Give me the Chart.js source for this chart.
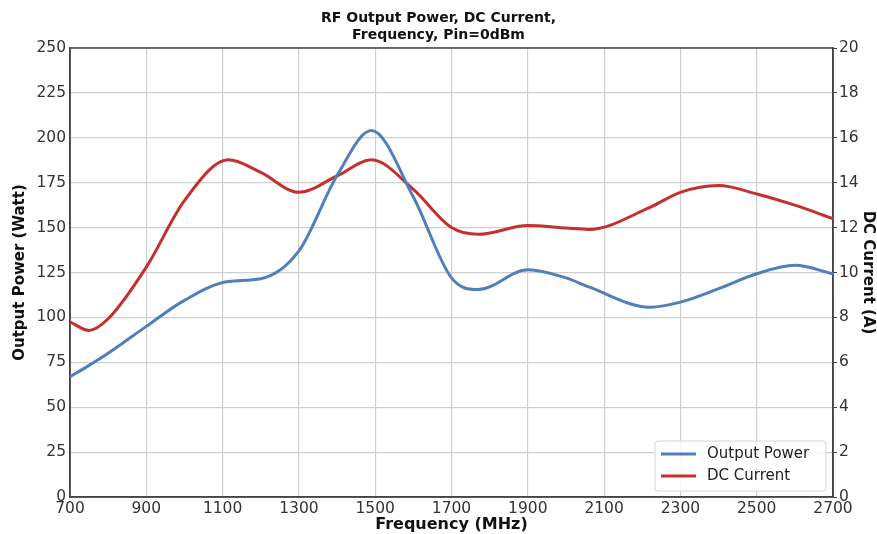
<!DOCTYPE html>
<html>
<head>
<meta charset="utf-8">
<script src="https://cdn.jsdelivr.net/npm/chart.js@4.4.1/dist/chart.umd.min.js"></script>
<style>
  html, body { margin: 0; padding: 0; background: #fff; }
  #wrap { width: 877px; height: 534px; }
</style>
</head>
<body>
<div id="wrap"><canvas id="c" width="877" height="534"></canvas></div>
<script>
// ---- Data ----
const frequencies = [700, 750, 800, 900, 1000, 1115, 1200, 1300, 1400, 1490, 1600, 1700, 1770, 1900, 2000, 2060, 2220, 2300, 2400, 2500, 2600, 2700];
const outputPower = [67, 73.3, 80, 95, 109.5, 120, 121.5, 137, 179, 204, 167, 122, 115.5, 126.5, 122, 117, 105.7, 108.5, 116, 124.3, 129, 124.3];
const dcCurrent   = [7.8, 7.42, 7.94, 10.24, 13.2, 15.02, 14.46, 13.57, 14.3, 15.02, 13.7, 12.0, 11.7, 12.09, 11.98, 11.92, 12.9, 13.57, 13.87, 13.5, 13.0, 12.4];
const seriesNames = ['Output Power', 'DC Current'];
const titleLines = ['RF Output Power, DC Current,', 'Frequency, Pin=0dBm'];
const xTitle = 'Frequency (MHz)';
const yLeftTitle = 'Output Power (Watt)';
const yRightTitle = 'DC Current (A)';

const BLUE = '#4f80bd';
const RED = '#c3302e';
const FONT = "'DejaVu Sans', sans-serif";

const toPts = (ys) => frequencies.map((x, i) => ({x, y: ys[i]}));

const frameAndLegend = {
  id: 'frameAndLegend',
  beforeDatasetsDraw(chart) {
    const {ctx, chartArea: a} = chart;
    ctx.save();
    ctx.strokeStyle = '#444';
    ctx.lineWidth = 1.5;
    ctx.strokeRect(a.left, a.top, a.right - a.left, a.bottom - a.top);
    ctx.restore();
  },
  afterDatasetsDraw(chart) {
    const {ctx, chartArea: a} = chart;
    const w = 171, h = 50;
    const x0 = a.right - 7 - w, y0 = a.bottom - 6 - h;
    ctx.save();
    ctx.fillStyle = 'rgba(255,255,255,0.85)';
    ctx.strokeStyle = '#d6d6d6';
    ctx.lineWidth = 1;
    ctx.beginPath();
    ctx.roundRect(x0, y0, w, h, 3);
    ctx.fill();
    ctx.stroke();
    ctx.font = '15px ' + FONT;
    ctx.textBaseline = 'middle';
    ctx.fillStyle = '#222';
    chart.data.datasets.forEach((ds, i) => {
      const cy = y0 + 13 + i * 22;
      ctx.strokeStyle = ds.borderColor;
      ctx.lineWidth = 3;
      ctx.beginPath();
      ctx.moveTo(x0 + 6, cy);
      ctx.lineTo(x0 + 41, cy);
      ctx.stroke();
      ctx.fillText(ds.label, x0 + 52, cy);
    });
    ctx.restore();
  }
};

const tickFont = { family: FONT, size: 15.5 };

new Chart(document.getElementById('c'), {
  type: 'line',
  data: {
    datasets: [
      { label: seriesNames[0], data: toPts(outputPower), yAxisID: 'y', borderColor: BLUE, backgroundColor: BLUE,
        borderWidth: 3, pointRadius: 0, cubicInterpolationMode: 'monotone', fill: false },
      { label: seriesNames[1], data: toPts(dcCurrent), yAxisID: 'y2', borderColor: RED, backgroundColor: RED,
        borderWidth: 3, pointRadius: 0, cubicInterpolationMode: 'monotone', fill: false }
    ]
  },
  options: {
    responsive: false,
    animation: false,
    layout: { padding: 0 },
    plugins: {
      legend: { display: false },
      tooltip: { enabled: false },
      title: {
        display: true,
        text: titleLines,
        color: '#111',
        font: { family: FONT, size: 14, weight: 'bold', lineHeight: 1.2 },
        padding: { top: 10, bottom: 4.4 }
      }
    },
    scales: {
      x: {
        type: 'linear', min: 700, max: 2700,
        afterFit: (s) => { s.height = 37; },
        ticks: { stepSize: 200, color: '#333', font: tickFont, padding: 3, maxRotation: 0,
                 callback: (v) => String(v) },
        grid: { color: '#cfcfcf', lineWidth: 1.2, drawTicks: false },
        border: { color: '#444', width: 1.5 },
        title: { display: true, text: xTitle, color: '#111', font: { family: FONT, size: 16, weight: 'bold', lineHeight: 1.2 },
                 padding: { top: 0, bottom: 0 } }
      },
      y: {
        type: 'linear', position: 'left', min: 0, max: 250,
        afterFit: (s) => { s.width = 70; },
        ticks: { stepSize: 25, color: '#333', font: tickFont, padding: 4 },
        grid: { color: '#cfcfcf', lineWidth: 1.2, drawTicks: false },
        border: { color: '#444', width: 1.5 },
        title: { display: true, text: yLeftTitle, color: '#111', font: { family: FONT, size: 15, weight: 'bold', lineHeight: 1.2 },
                 padding: { top: 11, bottom: 0 } }
      },
      y2: {
        type: 'linear', position: 'right', min: 0, max: 20,
        afterFit: (s) => { s.width = 44; },
        ticks: { stepSize: 2, color: '#333', font: tickFont, padding: 2 },
        grid: { drawOnChartArea: false, drawTicks: true, tickLength: 4, color: '#444' },
        border: { color: '#444', width: 1.5 },
        title: { display: true, text: yRightTitle, color: '#111', font: { family: FONT, size: 15, weight: 'bold', lineHeight: 1.2 },
                 padding: { top: 0, bottom: 0 } }
      }
    }
  },
  plugins: [frameAndLegend]
});
</script>
</body>
</html>
